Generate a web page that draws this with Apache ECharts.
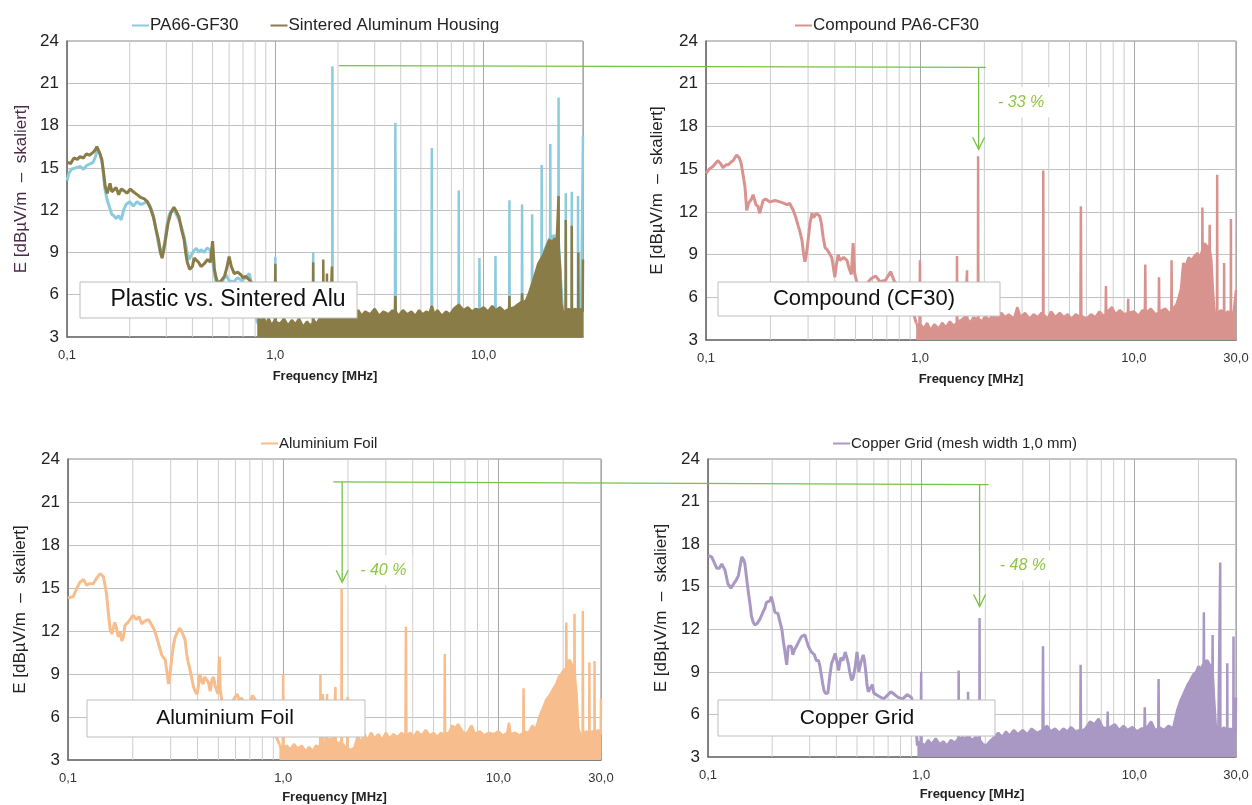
<!DOCTYPE html>
<html>
<head>
<meta charset="utf-8">
<title>E-field comparison</title>
<script src="https://cdn.jsdelivr.net/npm/echarts@6/dist/echarts.min.js"></script>
<style>
  html, body { margin: 0; padding: 0; background: #fff; }
  #chart { width: 1252px; height: 805px; }
</style>
</head>
<body>
<div id="chart"></div>
<script>
// frequency in MHz, field strength in dBµV/m (scaled)
const minorFreqs = [0.2, 0.3, 0.4, 0.5, 0.6, 0.7, 0.8, 0.9, 2, 3, 4, 5, 6, 7, 8, 9, 20]

const pa66Low = [[0.1,14.1],[0.102,14.6],[0.105,14.9],[0.11,15.0],[0.1155,15.1],[0.12,14.9],[0.125,15.2],[0.13,15.3],[0.1335,15.4],[0.137,15.8],[0.14,16.3],[0.144,16.0],[0.148,15.2],[0.152,13.5],[0.156,12.7],[0.16,12.2],[0.164,11.7],[0.168,11.6],[0.172,11.4],[0.177,11.6],[0.182,11.3],[0.187,12.0],[0.192,12.4],[0.2,12.6],[0.208,12.3],[0.217,12.6],[0.226,12.4],[0.235,12.5],[0.243,12.6],[0.252,12.2],[0.26,11.6],[0.268,10.5],[0.275,9.6],[0.282,8.9],[0.288,8.8],[0.294,9.6],[0.302,11.0],[0.31,11.7],[0.32,12.0],[0.33,11.9],[0.345,11.3],[0.355,10.8],[0.365,10.1],[0.375,9.2],[0.385,8.5],[0.395,8.8],[0.405,9.1],[0.418,9.3],[0.43,9.0],[0.44,9.2],[0.455,9.0],[0.47,9.3],[0.485,9.2],[0.5,8.4],[0.51,7.5],[0.52,6.8],[0.54,6.6],[0.56,7.0],[0.58,7.4],[0.6,7.0],[0.63,6.9],[0.66,7.2],[0.69,7.0],[0.72,7.2],[0.75,7.5],[0.78,6.4],[0.82,4.0]]
const pa66High = [[0.82,4.0],[0.86,3.5],[0.9,3.7],[0.95,3.4],[0.995,3.6],[1.0,8.7],[1.005,3.6],[1.08,3.4],[1.2,3.6],[1.35,3.3],[1.515,3.5],[1.52,9.0],[1.525,3.5],[1.65,3.4],[1.8,3.5],[1.875,3.5],[1.88,22.2],[1.885,3.5],[2.2,3.6],[2.7,3.5],[3.2,3.6],[3.75,3.5],[3.77,18.2],[3.79,3.5],[4.5,3.6],[5.62,3.5],[5.64,16.4],[5.66,3.5],[6.6,3.6],[7.58,3.5],[7.6,13.4],[7.62,3.5],[8.6,3.6],[9.52,3.5],[9.55,8.6],[9.58,3.5],[10.5,3.6],[11.37,3.5],[11.4,8.75],[11.43,3.5],[12.5,3.6],[13.26,3.6],[13.3,12.7],[13.34,3.6],[14.5,3.8],[15.25,4.0],[15.3,12.4],[15.35,4.0],[16.3,4.6],[17.05,6.0],[17.1,11.7],[17.15,6.2],[18.2,7.9],[18.95,8.6],[19.0,15.2],[19.05,8.7],[20.0,9.5],[20.85,10.1],[20.9,16.7],[20.95,10.1],[21.8,10.2],[22.85,10.0],[22.9,20.0],[22.95,9.8],[23.6,6.6],[24.3,3.8],[24.75,3.6],[24.8,13.2],[24.85,3.6],[25.8,3.6],[26.45,3.6],[26.5,13.3],[26.55,3.6],[27.5,3.6],[28.35,3.6],[28.4,13.0],[28.45,3.6],[29.3,3.6],[29.9,3.6],[30,17.3]]

const sinterLow = [[0.1,15.4],[0.104,15.3],[0.108,15.7],[0.112,15.6],[0.1155,15.8],[0.12,15.7],[0.124,16.0],[0.128,15.9],[0.1335,16.1],[0.137,16.3],[0.139,16.5],[0.143,16.1],[0.147,15.6],[0.15,14.6],[0.1525,13.7],[0.156,13.2],[0.161,13.9],[0.164,13.3],[0.167,13.2],[0.172,13.6],[0.177,13.1],[0.182,13.5],[0.187,13.4],[0.194,13.2],[0.2014,13.5],[0.208,13.3],[0.217,13.1],[0.226,12.9],[0.235,12.8],[0.243,12.6],[0.252,12.1],[0.26,11.5],[0.268,10.6],[0.275,9.9],[0.281,9.0],[0.286,8.6],[0.291,9.1],[0.297,9.9],[0.305,11.0],[0.315,11.8],[0.326,12.2],[0.335,11.9],[0.345,11.5],[0.355,10.6],[0.365,9.9],[0.372,8.9],[0.378,8.3],[0.388,7.8],[0.4,8.0],[0.408,8.6],[0.416,8.7],[0.428,8.3],[0.44,8.0],[0.456,8.2],[0.473,8.5],[0.488,8.3],[0.5,9.8],[0.51,7.8],[0.52,7.2],[0.53,6.8],[0.55,7.0],[0.57,7.3],[0.585,7.9],[0.6,8.7],[0.615,8.0],[0.635,7.5],[0.66,7.6],[0.685,7.4],[0.7,7.2],[0.72,7.3],[0.745,7.1],[0.765,6.9],[0.79,6.0],[0.82,4.6]]
const sinterHigh = [[0.82,4.6],[0.85,4.1],[0.88,4.4],[0.9,3.9],[0.93,4.3],[0.96,3.8],[0.995,4.2],[1.0,8.2],[1.005,4.1],[1.05,3.9],[1.1,4.3],[1.15,3.8],[1.2,4.2],[1.25,3.9],[1.3,4.3],[1.36,3.7],[1.42,4.1],[1.47,3.8],[1.515,4.0],[1.52,8.3],[1.525,4.2],[1.58,3.9],[1.64,4.4],[1.695,4.3],[1.7,8.5],[1.705,4.4],[1.765,4.5],[1.77,7.5],[1.775,4.6],[1.83,4.4],[1.865,4.5],[1.87,8.0],[1.875,4.5],[1.95,4.8],[2.0,4.4],[2.1,4.9],[2.2,4.5],[2.3,4.8],[2.4,4.6],[2.5,4.9],[2.6,4.5],[2.7,4.8],[2.85,4.6],[3.0,5.0],[3.15,4.5],[3.3,4.8],[3.5,4.6],[3.65,4.9],[3.75,4.7],[3.77,5.9],[3.79,4.8],[3.9,4.5],[4.1,4.9],[4.3,4.6],[4.5,4.8],[4.7,4.5],[4.9,4.9],[5.1,4.6],[5.3,4.8],[5.5,4.7],[5.64,5.2],[5.8,4.6],[6.0,4.9],[6.3,4.5],[6.6,4.8],[6.9,4.6],[7.2,5.0],[7.6,5.3],[8.0,4.9],[8.4,5.1],[8.8,4.8],[9.2,5.0],[9.55,4.9],[10.0,5.1],[10.5,4.8],[11.0,5.2],[11.4,4.9],[12.0,5.1],[12.6,4.8],[13.25,5.0],[13.3,5.9],[13.35,5.0],[14.0,5.1],[14.6,5.3],[15.25,5.5],[15.3,6.1],[15.35,5.4],[16.0,5.6],[16.6,6.2],[17.3,7.0],[17.8,7.6],[18.3,8.2],[18.8,8.5],[19.3,8.8],[19.8,9.2],[20.3,9.6],[20.7,9.9],[21.3,9.7],[21.9,10.0],[22.4,9.6],[22.85,9.5],[22.9,13.0],[22.95,9.3],[23.3,7.8],[23.6,5.4],[24.0,4.8],[24.4,4.9],[24.75,4.8],[24.8,11.3],[24.85,4.8],[25.6,5.0],[26.45,4.8],[26.5,10.9],[26.55,4.8],[27.4,5.0],[28.45,4.9],[28.5,9.0],[28.55,4.8],[29.3,5.0],[29.9,4.8],[30,8.5]]

const cf30Low = [[0.1,14.7],[0.1035,15.0],[0.108,15.2],[0.1135,15.6],[0.117,15.4],[0.12,15.1],[0.124,15.3],[0.127,15.3],[0.131,15.5],[0.134,15.6],[0.139,16.0],[0.143,15.8],[0.146,15.4],[0.149,14.6],[0.152,13.8],[0.155,12.1],[0.158,12.6],[0.16,12.7],[0.163,12.9],[0.166,13.2],[0.169,12.8],[0.171,12.5],[0.175,12.4],[0.178,11.9],[0.182,12.4],[0.185,12.8],[0.19,12.9],[0.199,12.7],[0.21,12.8],[0.222,12.7],[0.232,12.6],[0.239,12.5],[0.246,12.6],[0.256,12.1],[0.263,11.6],[0.27,11.0],[0.275,10.6],[0.281,10.0],[0.286,9.0],[0.29,8.5],[0.295,9.1],[0.3,10.0],[0.306,11.2],[0.313,11.9],[0.318,11.6],[0.323,11.7],[0.328,11.9],[0.334,12.0],[0.34,11.7],[0.346,11.2],[0.353,10.2],[0.36,9.5],[0.365,9.6],[0.37,9.3],[0.378,9.2],[0.387,8.8],[0.393,8.2],[0.4,7.4],[0.407,8.3],[0.415,9.0],[0.422,8.6],[0.43,8.5],[0.44,8.8],[0.456,8.6],[0.465,8.1],[0.47,7.9],[0.478,7.6],[0.487,9.8],[0.495,7.7],[0.51,6.9],[0.53,6.6],[0.56,6.9],[0.59,7.3],[0.62,7.5],[0.65,7.1],[0.69,7.2],[0.73,7.8],[0.76,7.1],[0.8,6.8],[0.86,6.2],[0.92,5.2],[0.96,4.2]]
const cf30High = [[0.96,4.2],[0.98,3.9],[0.995,4.2],[1.0,8.6],[1.005,4.1],[1.04,3.8],[1.08,4.2],[1.12,3.7],[1.17,4.1],[1.22,3.8],[1.27,4.2],[1.32,3.9],[1.38,4.3],[1.44,4.0],[1.485,4.2],[1.49,8.9],[1.495,4.3],[1.56,4.4],[1.62,4.6],[1.655,4.5],[1.66,7.9],[1.665,4.5],[1.72,4.2],[1.78,4.6],[1.865,4.4],[1.87,15.9],[1.875,4.5],[1.95,4.3],[2.02,4.7],[2.1,4.4],[2.2,4.8],[2.3,4.5],[2.4,4.9],[2.5,4.6],[2.6,4.8],[2.75,4.5],[2.85,5.3],[2.95,4.6],[3.1,4.9],[3.25,4.5],[3.4,4.8],[3.55,4.6],[3.7,4.9],[3.76,4.7],[3.77,14.9],[3.78,4.8],[3.95,4.5],[4.1,5.0],[4.3,4.6],[4.5,4.9],[4.7,4.6],[4.9,4.8],[5.1,4.5],[5.35,4.8],[5.62,4.6],[5.65,12.4],[5.68,4.7],[6.0,4.5],[6.3,4.8],[6.6,4.6],[6.9,5.0],[7.2,4.7],[7.37,4.8],[7.4,6.8],[7.43,4.9],[7.9,5.3],[8.2,4.8],[8.6,5.1],[9.0,4.8],[9.37,4.9],[9.4,5.9],[9.43,4.9],[10.0,5.0],[10.5,4.7],[11.0,5.1],[11.25,4.9],[11.3,8.3],[11.35,4.9],[12.0,5.2],[12.6,4.8],[13.05,4.9],[13.1,7.4],[13.15,5.0],[14.0,5.2],[14.6,4.9],[14.95,5.0],[15.0,8.6],[15.05,5.1],[15.8,5.5],[16.2,6.0],[16.6,6.6],[17.0,8.4],[17.5,8.2],[18.0,8.8],[18.6,8.6],[19.2,8.9],[19.8,9.1],[20.4,8.8],[20.85,9.3],[20.9,12.3],[20.95,9.4],[21.4,9.8],[21.9,9.6],[22.55,9.5],[22.6,11.1],[22.65,9.3],[23.0,8.6],[23.4,6.5],[23.8,4.9],[24.2,5.0],[24.45,4.8],[24.5,14.6],[24.55,4.8],[25.5,5.1],[26.35,4.9],[26.4,8.4],[26.45,4.8],[27.5,5.0],[28.35,4.9],[28.4,11.5],[28.45,4.8],[29.3,5.0],[29.85,4.9],[30,6.5]]

const foilLow = [[0.1,14.3],[0.1057,14.4],[0.11,15.0],[0.1137,15.4],[0.118,15.6],[0.122,15.2],[0.126,15.3],[0.131,15.3],[0.136,15.7],[0.141,16.0],[0.146,15.8],[0.149,15.1],[0.151,14.6],[0.154,13.3],[0.157,12.1],[0.16,11.8],[0.162,11.8],[0.165,12.6],[0.168,12.2],[0.171,11.6],[0.175,11.9],[0.178,11.3],[0.181,11.6],[0.184,12.4],[0.19,12.6],[0.194,12.6],[0.201,13.1],[0.207,12.8],[0.214,13.0],[0.22,12.5],[0.228,12.7],[0.237,12.8],[0.243,12.5],[0.25,12.2],[0.258,11.6],[0.266,10.9],[0.273,10.3],[0.283,10.0],[0.288,9.2],[0.293,8.3],[0.298,9.0],[0.303,10.0],[0.309,11.0],[0.314,11.5],[0.322,11.9],[0.33,12.2],[0.337,12.0],[0.344,12.1],[0.35,11.4],[0.356,10.4],[0.362,9.8],[0.369,9.3],[0.376,8.7],[0.383,8.1],[0.39,7.8],[0.398,7.6],[0.404,8.2],[0.41,9.0],[0.418,8.5],[0.425,8.3],[0.432,8.8],[0.44,8.9],[0.45,8.4],[0.458,7.8],[0.467,8.6],[0.475,8.8],[0.482,8.2],[0.49,8.1],[0.498,7.6],[0.505,10.2],[0.51,7.9],[0.518,7.2],[0.54,6.7],[0.57,6.9],[0.6,7.4],[0.61,7.6],[0.625,7.2],[0.64,7.3],[0.67,6.9],[0.7,7.0],[0.72,7.5],[0.75,7.1],[0.8,6.6],[0.86,5.8],[0.92,4.8],[0.96,4.1]]
const foilHigh = [[0.96,4.1],[0.98,3.8],[0.995,4.0],[1.0,9.0],[1.005,3.9],[1.04,4.0],[1.08,3.7],[1.12,4.1],[1.17,3.8],[1.22,4.0],[1.27,3.6],[1.32,3.9],[1.37,3.6],[1.42,4.0],[1.485,3.9],[1.49,9.0],[1.495,4.0],[1.525,4.0],[1.53,7.6],[1.535,4.1],[1.58,4.3],[1.595,4.2],[1.6,7.6],[1.605,4.2],[1.66,4.5],[1.71,4.4],[1.745,4.3],[1.75,8.1],[1.755,4.3],[1.82,4.1],[1.865,4.4],[1.87,15.0],[1.875,4.2],[1.94,3.9],[1.985,3.8],[1.99,7.4],[1.995,3.8],[2.08,3.7],[2.15,3.9],[2.22,4.7],[2.3,4.2],[2.38,4.8],[2.47,4.4],[2.56,4.9],[2.66,4.5],[2.77,4.8],[2.88,4.4],[3.0,4.9],[3.12,4.5],[3.25,4.8],[3.4,4.6],[3.55,4.9],[3.7,4.6],[3.72,12.3],[3.74,4.7],[3.9,4.9],[4.05,4.6],[4.2,5.0],[4.4,4.7],[4.6,5.1],[4.8,4.7],[5.0,4.9],[5.2,4.6],[5.4,4.9],[5.62,4.7],[5.64,10.4],[5.66,4.8],[5.9,4.9],[6.1,5.4],[6.3,5.2],[6.5,5.5],[6.8,5.0],[7.1,4.8],[7.5,5.4],[7.8,4.8],[8.2,5.0],[8.6,4.7],[9.0,4.9],[9.5,4.8],[10.0,5.0],[10.5,4.7],[11.0,4.9],[11.2,5.6],[11.4,4.8],[12.0,4.9],[12.5,4.7],[13.05,4.9],[13.1,8.0],[13.15,5.0],[13.8,4.9],[14.4,5.4],[14.9,5.1],[15.5,6.0],[16.1,6.6],[16.7,7.2],[17.3,7.5],[17.9,7.9],[18.6,8.3],[19.1,8.8],[19.6,9.0],[20.2,9.3],[20.65,9.4],[20.7,12.6],[20.75,9.5],[21.4,10.0],[21.9,9.7],[22.55,9.4],[22.6,13.2],[22.65,9.0],[23.1,7.6],[23.5,5.2],[24.0,4.8],[24.65,4.8],[24.7,13.4],[24.75,4.7],[25.6,5.0],[26.45,4.9],[26.5,9.8],[26.55,4.8],[27.3,5.0],[27.95,4.9],[28.0,9.9],[28.05,4.8],[29.0,5.1],[29.9,4.8],[30,7.3]]

const copperLow = [[0.1,17.2],[0.104,17.1],[0.107,16.7],[0.11,16.3],[0.113,16.3],[0.116,16.6],[0.12,16.2],[0.124,15.2],[0.128,14.9],[0.132,15.2],[0.136,15.5],[0.139,15.8],[0.142,16.6],[0.144,17.1],[0.147,16.9],[0.149,16.6],[0.152,15.5],[0.155,14.5],[0.158,13.6],[0.16,12.9],[0.163,12.5],[0.166,12.3],[0.17,12.4],[0.175,12.7],[0.181,13.2],[0.185,13.5],[0.188,13.9],[0.192,13.9],[0.195,14.0],[0.198,14.3],[0.202,13.8],[0.206,13.2],[0.21,13.2],[0.213,13.1],[0.217,12.6],[0.222,12.0],[0.226,11.1],[0.23,10.3],[0.234,9.5],[0.238,10.8],[0.242,10.9],[0.246,10.8],[0.25,10.2],[0.255,10.6],[0.26,10.8],[0.268,11.2],[0.275,11.5],[0.285,11.6],[0.29,11.2],[0.296,10.8],[0.305,10.4],[0.31,10.3],[0.316,10.2],[0.322,9.8],[0.33,9.8],[0.335,9.4],[0.34,8.8],[0.345,8.2],[0.35,7.7],[0.355,7.5],[0.365,7.5],[0.372,8.6],[0.38,9.6],[0.387,9.9],[0.395,10.3],[0.403,9.7],[0.41,9.1],[0.415,9.6],[0.42,10.0],[0.43,9.8],[0.44,10.4],[0.448,10.0],[0.455,9.6],[0.462,9.0],[0.472,8.4],[0.48,8.6],[0.49,9.3],[0.5,10.4],[0.505,9.8],[0.51,9.0],[0.52,9.6],[0.535,10.2],[0.542,9.8],[0.55,9.0],[0.557,8.1],[0.565,7.6],[0.575,7.8],[0.59,8.1],[0.6,7.5],[0.63,7.3],[0.665,7.1],[0.69,7.3],[0.72,7.6],[0.75,7.4],[0.78,7.2],[0.82,7.1],[0.86,7.4],[0.9,7.2],[0.93,6.5],[0.96,3.8]]
const copperHigh = [[0.96,3.8],[0.98,4.1],[0.995,3.9],[1.0,9.0],[1.005,4.0],[1.04,3.8],[1.08,4.2],[1.12,3.9],[1.17,4.3],[1.22,3.9],[1.27,4.1],[1.32,3.8],[1.38,4.2],[1.44,4.0],[1.495,4.3],[1.5,9.1],[1.505,4.2],[1.56,4.4],[1.62,4.3],[1.655,4.6],[1.66,7.6],[1.665,4.5],[1.73,4.2],[1.8,4.4],[1.875,4.3],[1.88,12.8],[1.885,4.2],[1.95,3.9],[2.02,3.8],[2.1,4.1],[2.2,4.4],[2.3,4.7],[2.4,4.4],[2.5,4.8],[2.6,4.5],[2.72,4.9],[2.85,4.6],[3.0,4.9],[3.15,4.6],[3.3,5.0],[3.5,4.7],[3.71,4.9],[3.73,10.8],[3.75,5.0],[3.9,5.2],[4.05,4.8],[4.25,5.0],[4.45,4.7],[4.65,5.0],[4.85,4.8],[5.05,5.1],[5.3,4.8],[5.58,4.9],[5.6,9.5],[5.62,4.8],[5.9,5.0],[6.2,5.5],[6.5,5.3],[6.8,5.7],[7.1,5.1],[7.47,5.0],[7.5,6.2],[7.53,5.0],[8.1,5.3],[8.5,4.9],[8.9,5.2],[9.3,4.9],[9.8,5.1],[10.3,4.8],[10.8,5.0],[11.15,5.0],[11.2,6.5],[11.25,4.9],[12.0,5.5],[12.5,4.9],[12.95,5.0],[13.0,8.5],[13.05,5.1],[13.8,4.9],[14.5,5.2],[15.2,5.0],[15.9,6.3],[16.5,7.0],[17.2,7.6],[17.8,8.1],[18.3,8.4],[18.9,8.8],[19.5,9.0],[20.0,9.4],[20.5,9.2],[21.15,9.6],[21.2,13.2],[21.25,9.7],[22.0,9.8],[22.6,9.5],[23.25,9.2],[23.3,11.6],[23.35,8.8],[23.7,7.0],[24.2,4.9],[24.8,5.0],[25.25,4.9],[25.3,16.7],[25.35,4.8],[26.3,5.1],[27.25,4.8],[27.3,9.6],[27.35,4.9],[28.3,5.0],[29.15,4.8],[29.2,11.5],[29.25,4.9],[29.9,4.8],[30,7.2]]

const panelNotes = ['Plastic vs. Sintered Alu', 'Compound (CF30)', 'Aluminium Foil', 'Copper Grid']
const reductionLabels = ['- 33 %', '- 40 %', '- 48 %']

const FONT = "'Liberation Sans', Arial, sans-serif"
const GREEN = '#7ac143'
const grids = [
  { left: 67, top: 41, width: 516, height: 296 },
  { left: 706, top: 41, width: 530, height: 299 },
  { left: 68, top: 459, width: 533, height: 301 },
  { left: 708, top: 459, width: 528, height: 298 },
]

function makeXAxis(i, showMax, nameGap) {
  return {
    type: 'log',
    logBase: 10,
    gridIndex: i,
    min: 0.1,
    max: 30,
    name: 'Frequency [MHz]',
    nameLocation: 'middle',
    nameGap,
    nameTextStyle: { fontFamily: FONT, fontWeight: 'bold', fontSize: 13, color: '#222' },
    axisLine: { lineStyle: { color: '#6e6e6e', width: 1.5 } },
    axisTick: { show: false },
    axisLabel: {
      fontFamily: FONT,
      fontSize: 13,
      color: '#333',
      margin: 12,
      showMaxLabel: true,
      formatter: (v) => (v > 20 && !showMax ? '' : v.toFixed(1).replace('.', ',')),
    },
    splitLine: { show: true, lineStyle: { color: '#a9a9a9' } },
  }
}

function makeYAxis(i, nameColor, nameGap) {
  return {
    type: 'value',
    gridIndex: i,
    min: 3,
    max: 24,
    interval: 3,
    name: 'E [dBµV/m  –  skaliert]',
    nameLocation: 'middle',
    nameGap,
    nameTextStyle: { fontFamily: FONT, fontSize: 17, color: nameColor },
    axisLine: { show: true, lineStyle: { color: '#6e6e6e', width: 1.5 } },
    axisTick: { show: false },
    axisLabel: { fontFamily: FONT, fontSize: 17, color: '#222', margin: 8 },
    splitLine: { lineStyle: { color: '#c2c2c2' } },
  }
}

// light vertical lines at 2..9 of every decade, kept behind the spectra
function minorGrid(i) {
  return {
    type: 'custom',
    xAxisIndex: i,
    yAxisIndex: i,
    silent: true,
    z: 1,
    data: minorFreqs.map((f) => [f, 3]),
    encode: { x: 0, y: 1 },
    renderItem: (params, api) => {
      const a = api.coord([api.value(0), 3])
      const b = api.coord([api.value(0), 24])
      return {
        type: 'line',
        shape: { x1: a[0], y1: a[1], x2: b[0], y2: b[1] },
        style: { stroke: '#cdcdcd', lineWidth: 1 },
      }
    },
  }
}

function spectrum(name, color, low, high, i, z) {
  const base = {
    name,
    type: 'line',
    xAxisIndex: i,
    yAxisIndex: i,
    symbol: 'none',
    showSymbol: false,
    itemStyle: { color },
    z,
  }
  return [
    { ...base, data: low, lineStyle: { color, width: 3 } },
    { ...base, data: high, lineStyle: { color, width: 2.5 }, areaStyle: { color, opacity: 1, origin: 'start' } },
  ]
}

function legendAt(names, left, top, fontSize, itemGap) {
  return {
    data: names,
    left,
    top,
    icon: 'rect',
    itemWidth: 17,
    itemHeight: 2,
    itemGap,
    textStyle: { fontFamily: FONT, fontSize, color: '#222', padding: [0, 0, 0, -4] },
  }
}

function noteBox(text, x, y, w, h, fontSize, cx) {
  return [
    { type: 'rect', shape: { x, y, width: w, height: h }, style: { fill: '#fff', stroke: '#bdbdbd', lineWidth: 1 }, z: 100 },
    {
      type: 'text',
      x: cx,
      y: y + h / 2,
      style: { text, fontFamily: FONT, fontSize, fill: '#111', align: 'center', verticalAlign: 'middle' },
      z: 101,
    },
  ]
}

const chart = echarts.init(document.getElementById('chart'))

chart.setOption({
  animation: false,
  backgroundColor: '#fff',
  grid: grids.map((g) => ({ ...g, show: true, borderColor: '#8a8a8a', borderWidth: 1, backgroundColor: 'transparent' })),
  xAxis: [makeXAxis(0, false, 33), makeXAxis(1, true, 33), makeXAxis(2, true, 31), makeXAxis(3, true, 31)],
  yAxis: [makeYAxis(0, '#4a2a48', 37), makeYAxis(1, '#222', 40), makeYAxis(2, '#222', 39), makeYAxis(3, '#222', 38)],
  legend: [
    legendAt(['PA66-GF30', 'Sintered Aluminum Housing'], 127, 12, 17, 32),
    legendAt(['Compound PA6-CF30'], 790, 12, 17, 10),
    legendAt(['Aluminium Foil'], 256, 431, 15, 10),
    legendAt(['Copper Grid (mesh width 1,0 mm)'], 828, 431, 15, 10),
  ],
  series: [
    minorGrid(0),
    minorGrid(1),
    minorGrid(2),
    minorGrid(3),
    ...spectrum('PA66-GF30', '#8ccbdd', pa66Low, pa66High, 0, 3),
    ...spectrum('Sintered Aluminum Housing', '#8a7c47', sinterLow, sinterHigh, 0, 4),
    ...spectrum('Compound PA6-CF30', '#d9938f', cf30Low, cf30High, 1, 3),
    ...spectrum('Aluminium Foil', '#f8bd8c', foilLow, foilHigh, 2, 3),
    ...spectrum('Copper Grid (mesh width 1,0 mm)', '#aa98c4', copperLow, copperHigh, 3, 3),
  ],
})

// green reduction arrows, anchored to the axes
const px = (g, f, v) => chart.convertToPixel({ gridIndex: g }, [f, v])

function arrow(x, y0, y1) {
  return [
    { type: 'line', shape: { x1: x, y1: y0, x2: x, y2: y1 }, style: { stroke: GREEN, lineWidth: 1.3 }, z: 110 },
    {
      type: 'polyline',
      shape: { points: [[x - 6, y1 - 12], [x, y1], [x + 6, y1 - 12]] },
      style: { stroke: GREEN, lineWidth: 1.3, fill: null },
      z: 110,
    },
  ]
}

function reduction(text, p) {
  return [
    { type: 'rect', shape: { x: p[0] - 27, y: p[1] - 15, width: 56, height: 30 }, style: { fill: '#fff' }, z: 105 },
    {
      type: 'text',
      x: p[0],
      y: p[1],
      style: { text, fontFamily: FONT, fontSize: 16, fontStyle: 'italic', fill: '#8fc641', align: 'center', verticalAlign: 'middle' },
      z: 106,
    },
  ]
}

const topStart = px(0, 2.02, 22.26)
const topEnd = px(1, 2.03, 22.15)
const topArrowX = px(1, 1.88, 16.4)
const botStart = px(2, 1.71, 22.4)
const botEnd = px(3, 2.07, 22.2)
const leftArrow = px(2, 1.88, 15.4)
const rightArrow = px(3, 1.88, 13.6)

chart.setOption({
  graphic: [
    ...noteBox(panelNotes[0], 80, 282, 277, 36, 23, 228),
    ...noteBox(panelNotes[1], 718, 282, 282, 34, 22, 864),
    ...noteBox(panelNotes[2], 87, 700, 278, 37, 21, 225),
    ...noteBox(panelNotes[3], 718, 700, 277, 36, 21, 857),
    { type: 'line', shape: { x1: topStart[0], y1: topStart[1], x2: topEnd[0], y2: topEnd[1] }, style: { stroke: GREEN, lineWidth: 1.3 }, z: 110 },
    ...arrow(topArrowX[0], topEnd[1], topArrowX[1]),
    { type: 'line', shape: { x1: botStart[0], y1: botStart[1], x2: botEnd[0], y2: botEnd[1] }, style: { stroke: GREEN, lineWidth: 1.3 }, z: 110 },
    ...arrow(leftArrow[0], botStart[1], leftArrow[1]),
    ...arrow(rightArrow[0], botEnd[1], rightArrow[1]),
    ...reduction(reductionLabels[0], px(1, 2.97, 19.7)),
    ...reduction(reductionLabels[1], px(2, 2.92, 16.25)),
    ...reduction(reductionLabels[2], px(3, 3.0, 16.5)),
  ],
})

window.addEventListener('resize', () => chart.resize())
</script>
</body>
</html>
